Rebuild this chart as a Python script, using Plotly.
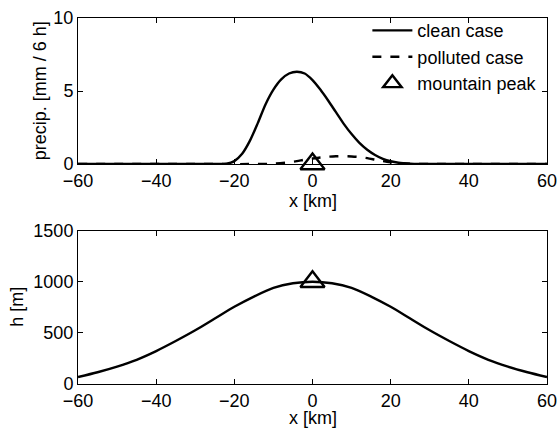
import plotly.graph_objects as go
from plotly.subplots import make_subplots

# ---- data ----
clean_x = [-60, -40, -25, -22, -20, -18, -16, -14, -12, -10, -8, -6, -4, -2, 0, 2, 4, 6, 8, 10,
           12, 14, 16, 18, 20, 22, 25, 28, 32, 40, 60]
clean_y = [0, 0, 0, 0.02, 0.2, 0.7, 1.6, 2.8, 4.1, 5.1, 5.8, 6.2, 6.32, 6.2, 5.75, 5.1, 4.35, 3.55, 2.75, 2.05,
           1.45, 0.98, 0.62, 0.36, 0.19, 0.09, 0.03, 0.01, 0, 0, 0]

poll_x = [-60, -30, -15, -10, -6, -4, -2, 0, 2, 4, 6, 8, 10, 12, 14, 16, 18, 20, 22, 25, 30, 40, 60]
poll_y = [0, 0, 0, 0.03, 0.12, 0.2, 0.3, 0.38, 0.45, 0.5, 0.53, 0.54, 0.52, 0.48, 0.4, 0.3, 0.2,
          0.12, 0.06, 0.02, 0, 0, 0]

h_x = [-60, -55, -50, -45, -40, -35, -30, -25, -20, -15, -10, -5, 0,
       5, 10, 15, 20, 25, 30, 35, 40, 45, 50, 55, 60]
h_y = [68, 115, 170, 237, 322, 420, 525, 640, 755, 855, 940, 985, 1000,
       985, 940, 855, 755, 640, 525, 420, 322, 237, 170, 115, 68]

peak_x = [0]
peak_precip = [0]
peak_h = [1000]

x_ticks = [-60, -40, -20, 0, 20, 40, 60]

FONT = "Liberation Sans, Arial, sans-serif"
FS = 18

fig = make_subplots(rows=2, cols=1)

fig.add_trace(go.Scatter(x=clean_x, y=clean_y, mode="lines", name="clean case",
                         line=dict(color="black", width=2.4, shape="spline", smoothing=0.8)),
              row=1, col=1)
fig.add_trace(go.Scatter(x=poll_x, y=poll_y, mode="lines", name="polluted case",
                         line=dict(color="black", width=2.4, dash="dash", shape="spline", smoothing=0.8)),
              row=1, col=1)
fig.add_trace(go.Scatter(x=peak_x, y=peak_precip, mode="markers", name="mountain peak",
                         cliponaxis=False,
                         marker=dict(symbol="triangle-up-open", size=21, color="black",
                                     line=dict(color="black", width=2.4))),
              row=1, col=1)

fig.add_trace(go.Scatter(x=h_x, y=h_y, mode="lines", showlegend=False,
                         line=dict(color="black", width=2.4, shape="spline", smoothing=0.8)),
              row=2, col=1)
fig.add_trace(go.Scatter(x=peak_x, y=peak_h, mode="markers", showlegend=False,
                         cliponaxis=False,
                         marker=dict(symbol="triangle-up-open", size=21, color="black",
                                     line=dict(color="black", width=2.4))),
              row=2, col=1)

axis_common = dict(showline=True, linecolor="black", linewidth=1, mirror="ticks",
                   ticks="inside", ticklen=5, tickwidth=1, tickcolor="black",
                   showgrid=False, zeroline=False, automargin=False,
                   tickfont=dict(family=FONT, size=FS, color="black"))

fig.update_xaxes(range=[-60, 60], tickvals=x_ticks, **axis_common)
fig.update_yaxes(**axis_common)
fig.update_yaxes(range=[0, 10], tickvals=[0, 5, 10], row=1, col=1)
fig.update_yaxes(range=[0, 1500], tickvals=[0, 500, 1000, 1500], row=2, col=1)

fig.update_layout(
    width=559, height=428,
    margin=dict(l=78, r=12, t=14, b=44),
    paper_bgcolor="white", plot_bgcolor="white",
    font=dict(family=FONT, size=FS, color="black"),
    xaxis=dict(domain=[0, 1], anchor="y"),
    yaxis=dict(domain=[0.601, 1.0]),
    xaxis2=dict(domain=[0, 1], anchor="y2"),
    yaxis2=dict(domain=[0.0, 0.419]),
    legend=dict(x=0.617, y=1.016, xanchor="left", yanchor="top",
                bgcolor="rgba(0,0,0,0)", borderwidth=0,
                font=dict(family=FONT, size=FS, color="black"),
                tracegroupgap=0, itemwidth=40),
    annotations=[
        dict(text="precip. [mm / 6 h]", textangle=-90, xref="paper", yref="paper",
             x=-0.081, y=0.80, xanchor="center", yanchor="middle", showarrow=False,
             font=dict(family=FONT, size=FS, color="black")),
        dict(text="h [m]", textangle=-90, xref="paper", yref="paper",
             x=-0.130, y=0.211, xanchor="center", yanchor="middle", showarrow=False,
             font=dict(family=FONT, size=FS, color="black")),
        dict(text="x [km]", xref="paper", yref="paper", x=0.5, y=0.500,
             xanchor="center", yanchor="middle", showarrow=False,
             font=dict(family=FONT, size=FS, color="black")),
        dict(text="x [km]", xref="paper", yref="paper", x=0.5, y=-0.093,
             xanchor="center", yanchor="middle", showarrow=False,
             font=dict(family=FONT, size=FS, color="black")),
    ],
)

fig.write_html("out.html")
